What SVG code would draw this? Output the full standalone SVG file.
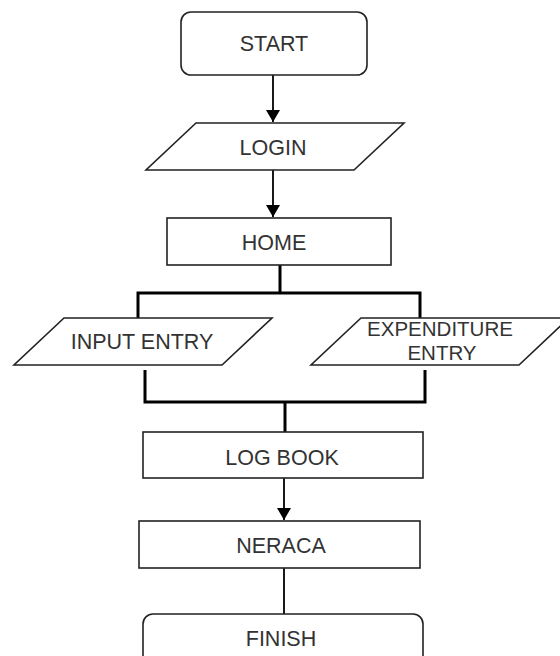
<svg xmlns="http://www.w3.org/2000/svg" width="560" height="656" viewBox="0 0 560 656">
<style>
.shape{fill:#fff;stroke:#222;stroke-width:1.6}
.t{font-family:"Liberation Sans",Arial,sans-serif;font-size:21.5px;fill:#333;text-anchor:middle}
.t2{font-size:20.5px}
.c{fill:none;stroke:#000;stroke-width:1.8}
.k{fill:none;stroke:#000;stroke-width:3}
</style>
<defs>
<marker id="ah" markerWidth="14" markerHeight="14" refX="12" refY="7" orient="auto" markerUnits="userSpaceOnUse">
<path d="M0,0 L12,7 L0,14 Z" fill="#000"/>
</marker>
</defs>
<rect width="560" height="656" fill="#fff"/>
<g id="connectors">
<line class="c" x1="273" y1="75" x2="273" y2="122" marker-end="url(#ah)"/>
<line class="c" x1="273" y1="170" x2="273" y2="217" marker-end="url(#ah)"/>
<polyline class="k" points="280,265 280,293"/>
<polyline class="k" points="138,318 138,293 420,293 420,318"/>
<polyline class="k" points="145,370 145,402 425,402 425,370"/>
<polyline class="k" points="285,402 285,432"/>
<line class="c" x1="284" y1="478" x2="284" y2="520" marker-end="url(#ah)"/>
<line class="c" x1="284" y1="568" x2="284" y2="614"/>
</g>
<g id="start">
<rect class="shape" x="181" y="12" width="186" height="63" rx="10"/>
<text class="t" x="274" y="51">START</text>
</g>
<g id="login">
<polygon class="shape" points="196,123 404,123 354,170 146,170"/>
<text class="t" x="273" y="155">LOGIN</text>
</g>
<g id="home">
<rect class="shape" x="167" y="218" width="224" height="47"/>
<text class="t" x="274" y="250">HOME</text>
</g>
<g id="input-entry">
<polygon class="shape" points="64,318 272,318 222,365 14,365"/>
<text class="t" x="142" y="349">INPUT ENTRY</text>
</g>
<g id="expenditure-entry">
<polygon class="shape" points="361,318 569,318 519,365 311,365"/>
<text class="t t2" x="440" y="336">EXPENDITURE</text>
<text class="t t2" x="442" y="360">ENTRY</text>
</g>
<g id="log-book">
<rect class="shape" x="143" y="432" width="280" height="46"/>
<text class="t" x="282" y="465">LOG BOOK</text>
</g>
<g id="neraca">
<rect class="shape" x="139" y="521" width="281" height="47"/>
<text class="t" x="281" y="553">NERACA</text>
</g>
<g id="finish">
<rect class="shape" x="143" y="614" width="280" height="62" rx="10"/>
<text class="t" x="281" y="646">FINISH</text>
</g>
</svg>
